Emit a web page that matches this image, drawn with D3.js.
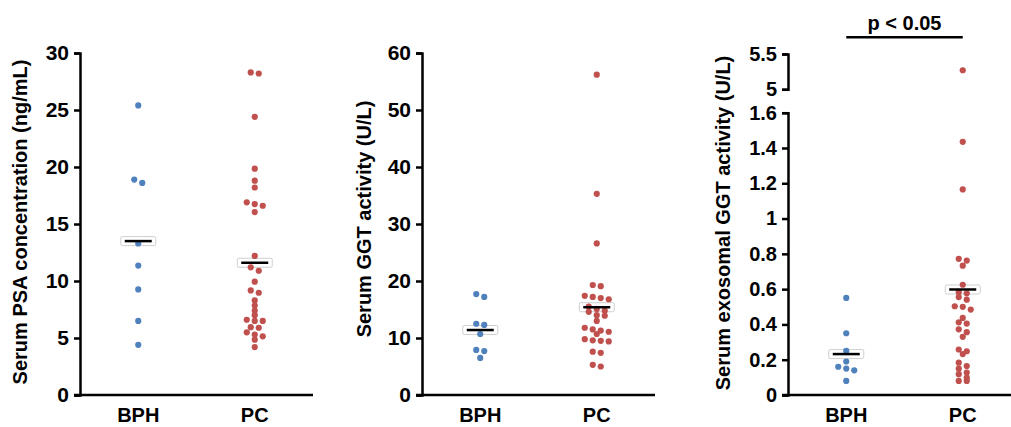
<!DOCTYPE html>
<html>
<head>
<meta charset="utf-8">
<script src="https://cdn.jsdelivr.net/npm/d3@7"></script>
<style>
  html, body { margin: 0; padding: 0; background: #fff; }
  svg { display: block; }
</style>
</head>
<body>
<div id="chart"></div>
<script>
// Data
const categories = ['BPH', 'PC'];

const psaBPH = [25.4, 18.9, 18.6, 13.3, 11.35, 9.26, 6.5, 4.4];
const psaPC = [28.2, 28.3, 24.4, 19.85, 18.8, 18.2, 16.9, 16.75, 16.6, 16.05, 12.2, 11.2, 10.9,
    9.94, 9.17, 8.97, 8.3, 7.85, 7.4, 7.0, 6.6, 6.5, 6.5, 5.95, 5.9, 5.5, 5.3, 5.15, 4.85, 4.2];
const psaMeans = [13.5, 11.6];
const psaTicks = [0, 5, 10, 15, 20, 25, 30];

const ggtBPH = [17.7, 17.2, 12.5, 12.3, 10.7, 7.9, 7.7, 6.5];
const ggtPC = [56.2, 35.3, 26.6, 19.3, 19.1, 17.4, 17.2, 17.0, 16.8, 15.5, 15.1, 14.8, 14.6,
    14.0, 13.9, 13.0, 11.8, 11.5, 11.3, 11.1, 10.7, 9.8, 9.6, 9.5, 9.4, 7.6, 7.4, 5.3, 5.0];
const ggtMeans = [11.4, 15.4];
const ggtTicks = [0, 10, 20, 30, 40, 50, 60];

const exoBPH = [0.55, 0.35, 0.25, 0.19, 0.16, 0.15, 0.14, 0.08];
const exoPC = [5.27, 1.435, 1.165, 0.772, 0.762, 0.733, 0.625, 0.582, 0.576, 0.555, 0.54, 0.503,
    0.5, 0.484, 0.437, 0.412, 0.405, 0.372, 0.356, 0.33, 0.258, 0.248, 0.232, 0.183, 0.164,
    0.149, 0.127, 0.118, 0.098, 0.08, 0.08];
const exoMeans = [0.232, 0.598];
const exoTicksLow = [0, 0.2, 0.4, 0.6, 0.8, 1, 1.2, 1.4, 1.6];
const exoTicksHigh = [5, 5.5];

const colors = ['#4f81bd', '#c0504d'];

const width = 1011, height = 427;
const svg = d3.select('#chart').append('svg')
    .attr('width', width)
    .attr('height', height)
    .attr('font-family', '"Liberation Sans", Arial, sans-serif')
    .attr('font-weight', 'bold');

svg.append('rect').attr('width', width).attr('height', height).attr('fill', '#fff');

const y0 = 395;

const panels = [
    {
        axisX: 80, labelX: 27, labelY: 222, tickFont: 21,
        label: 'Serum PSA concentration (ng/mL)',
        series: [psaBPH, psaPC], means: psaMeans,
        segments: [{domain: [0, 30], range: [y0, 53], ticks: psaTicks}]
    },
    {
        axisX: 422, labelX: 371, labelY: 219, tickFont: 21,
        label: 'Serum GGT activity (U/L)',
        series: [ggtBPH, ggtPC], means: ggtMeans,
        segments: [{domain: [0, 60], range: [y0, 53], ticks: ggtTicks}]
    },
    {
        axisX: 788, labelX: 730, labelY: 223, tickFont: 20,
        label: 'Serum exosomal GGT activity (U/L)',
        series: [exoBPH, exoPC], means: exoMeans,
        segments: [
            {domain: [0, 1.6], range: [y0, 112.7], ticks: exoTicksLow},
            {domain: [5, 5.5], range: [89.3, 54], ticks: exoTicksHigh}
        ]
    }
];

// spread points that sit on the same row, centred on the category
function dodge(values, yOf, cx) {
    const pts = values.map(v => ({v, y: yOf(v)})).sort((a, b) => a.y - b.y);
    const rows = [];
    pts.forEach(p => {
        const row = rows[rows.length - 1];
        if (row && p.y - row[0].y < 4) row.push(p);
        else rows.push([p]);
    });
    rows.forEach(row => {
        row.forEach((p, i) => { p.x = cx + (i - (row.length - 1) / 2) * 8; });
    });
    return pts;
}

panels.forEach(cfg => {
    const g = svg.append('g');
    const scales = cfg.segments.map(s => d3.scaleLinear().domain(s.domain).range(s.range));
    const yOf = v => {
        const i = cfg.segments.findIndex(s => v >= s.domain[0] && v <= s.domain[1]);
        return scales[i < 0 ? 0 : i](v);
    };
    const x = d3.scaleBand().domain(categories).range([cfg.axisX, cfg.axisX + 233]).padding(0);

    // y axis segments
    scales.forEach((sc, i) => {
        const ax = g.append('g')
            .attr('transform', `translate(${cfg.axisX},0)`)
            .call(d3.axisLeft(sc).tickValues(cfg.segments[i].ticks)
                .tickSize(6).tickSizeOuter(6).tickPadding(5).tickFormat(d => d));
        ax.selectAll('path, line').attr('stroke', '#000').attr('stroke-width', 2.5);
        ax.selectAll('text')
            .attr('font-size', cfg.tickFont)
            .attr('font-family', '"Liberation Sans", Arial, sans-serif')
            .attr('font-weight', 'bold')
            .attr('fill', '#000');
        ax.attr('font-family', null).attr('font-size', null);
    });

    // x axis line
    g.append('line')
        .attr('x1', cfg.axisX - 6).attr('x2', cfg.axisX + 233)
        .attr('y1', y0).attr('y2', y0)
        .attr('stroke', '#000').attr('stroke-width', 2.5);

    // category labels
    g.selectAll('text.cat').data(categories).enter()
        .append('text')
        .attr('class', 'cat')
        .attr('x', d => x(d) + x.bandwidth() / 2)
        .attr('y', 422)
        .attr('font-size', 20)
        .attr('text-anchor', 'middle')
        .text(d => d);

    // y label
    g.append('text')
        .attr('transform', `translate(${cfg.labelX},${cfg.labelY}) rotate(-90)`)
        .attr('font-size', 20)
        .attr('text-anchor', 'middle')
        .text(cfg.label);

    categories.forEach((c, ci) => {
        const cx = x(c) + x.bandwidth() / 2;
        const my = yOf(cfg.means[ci]);

        // mean marker box
        g.append('rect')
            .attr('x', cx - 17.5).attr('y', my - 4.5)
            .attr('width', 35).attr('height', 9)
            .attr('rx', 1.5)
            .attr('fill', '#fff')
            .attr('stroke', '#cfcfcf')
            .attr('stroke-width', 1);

        g.append('g').selectAll('circle')
            .data(dodge(cfg.series[ci], yOf, cx)).enter()
            .append('circle')
            .attr('cx', d => d.x)
            .attr('cy', d => d.y)
            .attr('r', 3.1)
            .attr('fill', colors[ci]);

        // mean line
        g.append('line')
            .attr('x1', cx - 13.5).attr('x2', cx + 13.5)
            .attr('y1', my).attr('y2', my)
            .attr('stroke', '#000').attr('stroke-width', 2.5);
    });

    if (cfg.segments.length > 1) {
        // significance bar
        const xa = x('BPH') + x.bandwidth() / 2, xb = x('PC') + x.bandwidth() / 2;
        g.append('line')
            .attr('x1', xa).attr('x2', xb)
            .attr('y1', 37.3).attr('y2', 37.3)
            .attr('stroke', '#000').attr('stroke-width', 2.5);
        g.append('text')
            .attr('x', (xa + xb) / 2)
            .attr('y', 29.5)
            .attr('font-size', 20)
            .attr('text-anchor', 'middle')
            .text('p < 0.05');
    }
});
</script>
</body>
</html>
